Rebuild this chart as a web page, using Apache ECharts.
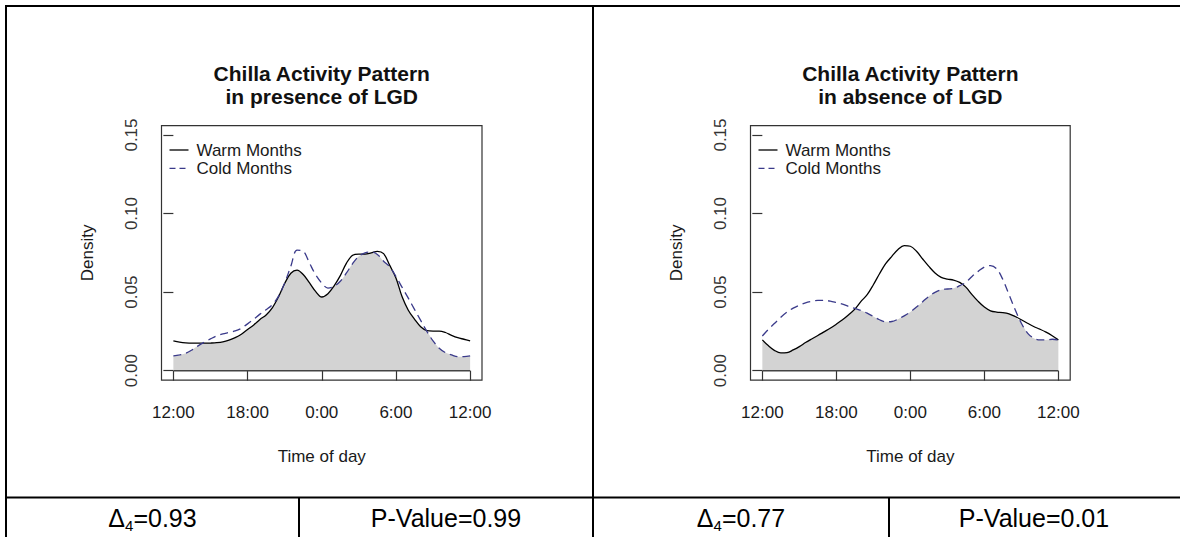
<!DOCTYPE html>
<html>
<head>
<meta charset="utf-8">
<script src="https://cdn.jsdelivr.net/npm/echarts@6/dist/echarts.min.js"></script>
<style>
  html, body { margin: 0; padding: 0; background: #ffffff; }
  #chart { width: 1180px; height: 537px; }
</style>
</head>
<body>
<div id="chart"></div>
<script>
// Hours elapsed since 12:00 (noon) at which the densities are given
const hours = [0, 0.5, 1, 1.5, 2, 2.5, 3, 3.5, 4, 4.5, 5, 5.5, 6, 6.5, 7, 7.5, 8, 8.5, 9, 9.5,
  10, 10.5, 11, 11.5, 12, 12.5, 13, 13.5, 14, 14.5, 15, 15.5, 16, 16.5, 17, 17.5, 18, 18.5, 19, 19.5,
  20, 20.5, 21, 21.5, 22, 22.5, 23, 23.5, 24];

// Tick positions (hours since noon) and their clock labels
const timeTicks = [0, 6, 12, 18, 24];
const timeLabels = ['12:00', '18:00', '0:00', '6:00', '12:00'];
const densityTicks = [0, 0.05, 0.10, 0.15];

// Kernel density of activity, LGD present
const presenceWarm = [0.0190, 0.0182, 0.0177, 0.0175, 0.0175, 0.0175, 0.0176, 0.0178, 0.0183, 0.0194,
  0.0210, 0.0232, 0.0262, 0.0291, 0.0326, 0.0355, 0.0400, 0.0470, 0.0555, 0.0620,
  0.0640, 0.0612, 0.0560, 0.0505, 0.0469, 0.0490, 0.0540, 0.0605, 0.0685, 0.0735,
  0.0742, 0.0742, 0.0750, 0.0760, 0.0745, 0.0670, 0.0590, 0.0470, 0.0385, 0.0328,
  0.0280, 0.0255, 0.0252, 0.0252, 0.0243, 0.0225, 0.0210, 0.0200, 0.0190];
const presenceCold = [0.0094, 0.0100, 0.0111, 0.0132, 0.0158, 0.0181, 0.0202, 0.0222, 0.0234, 0.0243,
  0.0253, 0.0270, 0.0298, 0.0328, 0.0360, 0.0388, 0.0420, 0.0473, 0.0558, 0.0665,
  0.0767, 0.0760, 0.0686, 0.0611, 0.0558, 0.0526, 0.0537, 0.0569, 0.0622, 0.0682,
  0.0728, 0.0750, 0.0756, 0.0740, 0.0697, 0.0660, 0.0600, 0.0530, 0.0462, 0.0390,
  0.0320, 0.0250, 0.0190, 0.0143, 0.0115, 0.0100, 0.0089, 0.0089, 0.0094];

// Kernel density of activity, LGD absent
const absenceWarm = [0.0196, 0.0158, 0.0128, 0.0113, 0.0115, 0.0132, 0.0153, 0.0179, 0.0202, 0.0224,
  0.0247, 0.0270, 0.0296, 0.0324, 0.0356, 0.0392, 0.0441, 0.0484, 0.0547, 0.0617,
  0.0681, 0.0728, 0.0771, 0.0796, 0.0792, 0.0760, 0.0711, 0.0664, 0.0622, 0.0594,
  0.0583, 0.0577, 0.0562, 0.0532, 0.0484, 0.0441, 0.0405, 0.0381, 0.0373, 0.0370,
  0.0362, 0.0345, 0.0324, 0.0302, 0.0281, 0.0264, 0.0245, 0.0222, 0.0196];
const absenceCold = [0.0221, 0.0264, 0.0302, 0.0340, 0.0373, 0.0398, 0.0417, 0.0432, 0.0441, 0.0447,
  0.0447, 0.0443, 0.0434, 0.0424, 0.0409, 0.0396, 0.0383, 0.0366, 0.0345, 0.0324,
  0.0311, 0.0313, 0.0328, 0.0349, 0.0373, 0.0405, 0.0439, 0.0473, 0.0498, 0.0515,
  0.0520, 0.0524, 0.0541, 0.0562, 0.0600, 0.0632, 0.0660, 0.0669, 0.0648, 0.0580,
  0.0484, 0.0388, 0.0302, 0.0239, 0.0207, 0.0196, 0.0196, 0.0200, 0.0196];

const panelTitles = ['Chilla Activity Pattern\nin presence of LGD', 'Chilla Activity Pattern\nin absence of LGD'];
const seriesNames = ['Warm Months', 'Cold Months'];
const overlapDeltas = ['0.93', '0.77'];
const pValues = ['0.99', '0.01'];

const FONT = '"Liberation Sans", Arial, sans-serif';
const WARM_COLOR = '#000000';
const COLD_COLOR = '#3a3a8a';
const AXIS_COLOR = '#333333';
const TEXT_COLOR = '#1a1a1a';

// Plot boxes (pixel layout of each panel)
const boxes = [
  { left: 161.5, top: 125.6, width: 320.5, height: 254.5 },
  { left: 750.5, top: 125.6, width: 319.7, height: 254.5 }
];

const panels = [
  { warm: presenceWarm, cold: presenceCold },
  { warm: absenceWarm, cold: absenceCold }
];

const pairs = (ys) => hours.map((h, i) => [h, ys[i]]);
const overlap = (a, b) => hours.map((h, i) => [h, Math.min(a[i], b[i])]);

const grids = [], xAxes = [], yAxes = [], series = [], graphics = [];

boxes.forEach((b, k) => {
  grids.push({
    left: b.left, top: b.top, width: b.width, height: b.height,
    show: true, borderColor: AXIS_COLOR, borderWidth: 1.2, backgroundColor: 'transparent'
  });
  xAxes.push({
    type: 'value', gridIndex: k, min: -0.96, max: 24.96,
    axisLine: { show: false }, splitLine: { show: false },
    axisTick: { show: true, customValues: timeTicks, length: 10, lineStyle: { color: AXIS_COLOR, width: 1.2 } },
    axisLabel: {
      customValues: timeTicks, margin: 24, fontSize: 17, fontFamily: FONT, color: TEXT_COLOR,
      formatter: (v) => timeLabels[timeTicks.indexOf(v)]
    },
    name: 'Time of day', nameLocation: 'middle', nameGap: 68,
    nameTextStyle: { fontSize: 17, fontFamily: FONT, color: TEXT_COLOR }
  });
  yAxes.push({
    type: 'value', gridIndex: k, min: -0.006, max: 0.156,
    axisLine: { show: false }, splitLine: { show: false },
    axisTick: { show: true, customValues: densityTicks, length: 10, lineStyle: { color: AXIS_COLOR, width: 1.2 } },
    axisLabel: {
      customValues: densityTicks, rotate: 90, margin: 22, fontSize: 17, fontFamily: FONT, color: '#333333',
      formatter: (v) => v.toFixed(2)
    },
    name: 'Density', nameLocation: 'middle', nameGap: 66, nameRotate: 90,
    nameTextStyle: { fontSize: 17, fontFamily: FONT, color: TEXT_COLOR }
  });

  const p = panels[k];
  // Shared area under both curves
  series.push({
    type: 'line', name: 'overlap', xAxisIndex: k, yAxisIndex: k, data: overlap(p.warm, p.cold),
    smooth: 0.35, symbol: 'none', lineStyle: { width: 0 },
    areaStyle: { color: '#d3d3d3', opacity: 1 }, silent: true, z: 1
  });
  // Zero baseline under the shaded region
  series.push({
    type: 'line', name: 'baseline', xAxisIndex: k, yAxisIndex: k, data: [[0, 0], [24, 0]],
    symbol: 'none', lineStyle: { color: '#444444', width: 1.5 }, silent: true, z: 2
  });
  series.push({
    type: 'line', name: seriesNames[0], xAxisIndex: k, yAxisIndex: k, data: pairs(p.warm),
    smooth: 0.35, symbol: 'none', lineStyle: { color: WARM_COLOR, width: 1.3 }, z: 3
  });
  series.push({
    type: 'line', name: seriesNames[1], xAxisIndex: k, yAxisIndex: k, data: pairs(p.cold),
    smooth: 0.35, symbol: 'none', lineStyle: { color: COLD_COLOR, width: 1.3, type: [8, 5] }, z: 4
  });

  // Panel title
  graphics.push({
    type: 'text', x: b.left + b.width / 2, y: 62, silent: true,
    style: {
      text: panelTitles[k], align: 'center', verticalAlign: 'top', lineHeight: 23,
      fontSize: 21, fontWeight: 'bold', fontFamily: FONT, fill: '#111111'
    }
  });

  // Legend in the upper-left corner of the box
  const lx = b.left + 8, ly = [150, 168.3];
  graphics.push({ type: 'line', shape: { x1: lx, y1: ly[0], x2: lx + 19, y2: ly[0] }, style: { stroke: WARM_COLOR, lineWidth: 1.3 }, silent: true });
  graphics.push({ type: 'line', shape: { x1: lx, y1: ly[1], x2: lx + 19, y2: ly[1] }, style: { stroke: COLD_COLOR, lineWidth: 1.3, lineDash: [6, 4] }, silent: true });
  seriesNames.forEach((nm, j) => {
    graphics.push({
      type: 'text', x: lx + 27, y: ly[j], silent: true,
      style: { text: nm, align: 'left', verticalAlign: 'middle', fontSize: 17, fontFamily: FONT, fill: TEXT_COLOR }
    });
  });
});

// Table frame around the two panels and the statistics row
const TL = 2;
[
  [5, 6, 1180, 6],
  [6, 5, 6, 537],
  [593, 5, 593, 537],
  [5, 497.5, 1180, 497.5],
  [299, 497, 299, 537],
  [889, 497, 889, 537]
].forEach(([x1, y1, x2, y2]) => {
  graphics.push({ type: 'line', shape: { x1, y1, x2, y2 }, style: { stroke: '#000000', lineWidth: TL }, silent: true, z: 100 });
});

// Statistics row: overlap coefficient and p-value for each panel
const cellCenters = [152.5, 446, 741, 1034];
const rowY = 518;
const richStyles = {
  d: { fontSize: 25, fontFamily: FONT, fill: '#000000', lineHeight: 30 },
  s: { fontSize: 15, fontFamily: FONT, fill: '#000000', lineHeight: 30, verticalAlign: 'bottom' }
};
overlapDeltas.forEach((dv, k) => {
  graphics.push({
    type: 'text', x: cellCenters[k * 2], y: rowY, silent: true,
    style: { text: '{d|Δ}{s|4}{d|=' + dv + '}', align: 'center', verticalAlign: 'middle', rich: richStyles }
  });
  graphics.push({
    type: 'text', x: cellCenters[k * 2 + 1], y: rowY, silent: true,
    style: { text: 'P-Value=' + pValues[k], align: 'center', verticalAlign: 'middle', fontSize: 25, fontFamily: FONT, fill: '#000000' }
  });
});

const chart = echarts.init(document.getElementById('chart'), null, { renderer: 'svg' });
chart.setOption({
  animation: false,
  backgroundColor: '#ffffff',
  grid: grids,
  xAxis: xAxes,
  yAxis: yAxes,
  series: series,
  graphic: graphics
});
</script>
</body>
</html>
